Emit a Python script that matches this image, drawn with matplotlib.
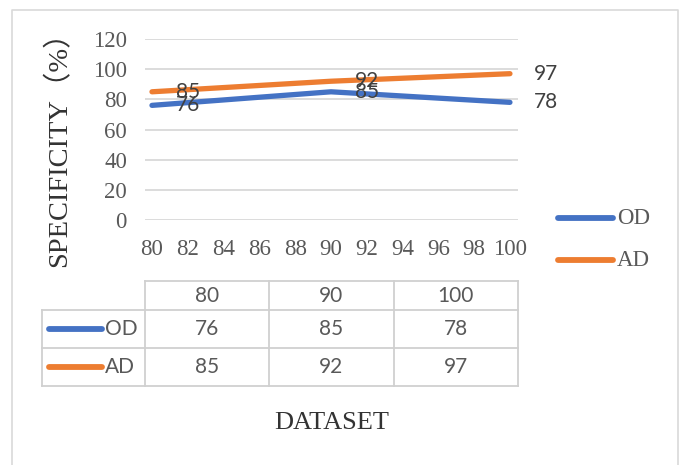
import matplotlib
matplotlib.use("Agg")
import matplotlib.pyplot as plt

# dataset sizes and specificity (%) of the two methods
dataset = [80, 90, 100]
od = [76, 85, 78]
ad = [85, 92, 97]
series_names = ["OD", "AD"]
yticks = [0, 20, 40, 60, 80, 100, 120]
xticks = list(range(80, 101, 2))

BLUE = "#4472C4"
ORANGE = "#ED7D31"
GRID = "#D9D9D9"
TXT = "#595959"
SERIF = ["Liberation Serif", "DejaVu Serif"]
SANS = ["Lato", "DejaVu Sans"]

W, H = 680, 465
fig = plt.figure(figsize=(W / 100, H / 100), dpi=100)

# overlay in pixel units for the frame, legend and data table
ov = fig.add_axes([0, 0, 1, 1])
ov.set_xlim(0, W)
ov.set_ylim(H, 0)
ov.axis("off")

ax = fig.add_axes([145 / W, 1 - 220 / H, 373 / W, 181 / H])
ax.set_ylim(0, 120)
ax.set_xlim(79.61, 100.45)
ax.set_yticks(yticks)
ax.set_xticks(xticks)
ax.grid(axis="y", color=GRID, lw=1.3)
ax.set_axisbelow(True)
for s in ax.spines.values():
    s.set_visible(False)
ax.tick_params(length=0, colors=TXT, labelsize=16.5)
ax.tick_params(axis="y", pad=13)
ax.tick_params(axis="x", pad=14)
for lb in ax.get_xticklabels() + ax.get_yticklabels():
    lb.set_family(SERIF)

for vals, col in [(od, BLUE), (ad, ORANGE)]:
    ax.plot(dataset, vals, color=col, lw=3.8, solid_capstyle="round")
    for x, v in zip(dataset, vals):
        ax.text(x + 2, v, str(v), ha="center", va="center", fontsize=15,
                family=SANS, color="#404040", clip_on=False)

ax.set_ylabel("SPECIFICITY（%）", family=["Liberation Serif", "Noto Sans CJK SC"],
              fontsize=20.5, color="#333333")
ax.yaxis.set_label_coords(-0.196, 0.43)

# chart frame
ov.plot([12, 12, 678, 678], [470, 10, 10, 470], color=GRID, lw=1.2)

# legend on the right
for i, (name, col) in enumerate(zip(series_names, [BLUE, ORANGE])):
    y = 218 + i * 42
    ov.plot([558, 613], [y, y], color=col, lw=4.2, solid_capstyle="round")
    ov.text(617, y, name, va="center", ha="left", fontsize=16.5,
            family=SERIF, color=TXT)

# data table under the axis
cols = [145, 269.3, 393.7, 518]
rows = [281, 310, 348, 386]
lc = "#D0D0D0"
ov.plot([145, 518], [rows[0], rows[0]], color=lc, lw=1.3)
for y in rows[1:]:
    ov.plot([42, 518], [y, y], color=lc, lw=1.3)
for x in cols:
    ov.plot([x, x], [rows[0], rows[3]], color=lc, lw=1.3)
ov.plot([42, 42], [rows[1], rows[3]], color=lc, lw=1.3)

for j, d in enumerate(dataset):
    cx = (cols[j] + cols[j + 1]) / 2
    ov.text(cx, (rows[0] + rows[1]) / 2, str(d), ha="center", va="center",
            fontsize=15, family=SANS, color=TXT)
    for i, vals in enumerate([od, ad]):
        ov.text(cx, (rows[i + 1] + rows[i + 2]) / 2, str(vals[j]), ha="center",
                va="center", fontsize=15, family=SANS, color=TXT)

for i, (name, col) in enumerate(zip(series_names, [BLUE, ORANGE])):
    cy = (rows[i + 1] + rows[i + 2]) / 2
    ov.plot([49, 102], [cy, cy], color=col, lw=4.2, solid_capstyle="round")
    ov.text(105, cy, name, ha="left", va="center", fontsize=15,
            family=SANS, color=TXT)

ov.text(332, 423, "DATASET", ha="center", va="center", fontsize=19,
        family=SERIF, color="#333333")

fig.savefig("out.png", dpi=100)
